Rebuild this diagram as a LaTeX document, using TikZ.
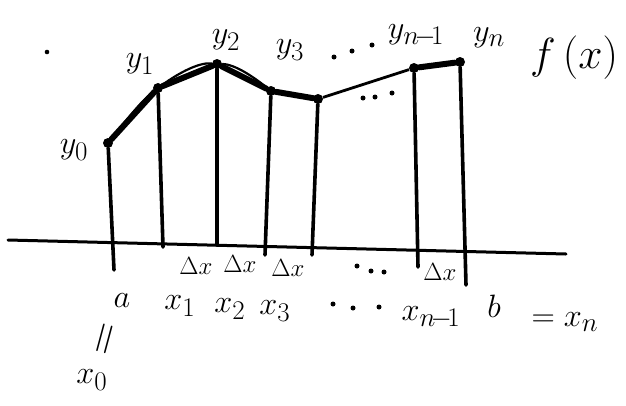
\documentclass[tikz,border=0pt]{standalone}
\begin{document}
\begin{tikzpicture}[x=1pt,y=-1pt,
  stroke/.style={line width=3.6pt,line cap=round},
  thick curve/.style={line width=6pt,line cap=round,line join=round},
  lbl/.style={font=\Huge,scale=1.3,inner sep=0pt},
  small/.style={font=\Huge,scale=1.0,inner sep=0pt},
  pt/.style={circle,fill,inner sep=0pt,minimum size=10pt},
  dot/.style={circle,fill,inner sep=0pt,minimum size=5pt}]
\useasboundingbox (0,0) rectangle (626,405);
% axis
\coordinate (axL) at (8,240);
\coordinate (axR) at (566,254);
\draw[line width=3pt,line cap=round] (axL) -- (axR);
% points on curve
\node[pt] (p0) at (108,143) {};
\node[pt] (p1) at (158,88) {};
\node[pt] (p2) at (217,64) {};
\node[pt] (p3) at (271,91) {};
\node[pt] (p4) at (318,99) {};
\node[pt] (p5) at (414,68) {};
\node[pt] (p6) at (460,62) {};
% feet
\coordinate (f0) at (114,270);
\coordinate (f1) at (163,247);
\coordinate (f2) at (217,245);
\coordinate (f3) at (265,255);
\coordinate (f4) at (312,255);
\coordinate (f5) at (418,267);
\coordinate (f6) at (466,285);
\foreach \i in {0,...,6}{\draw[stroke] (p\i) -- (f\i);}
% polygon (thick)
\draw[thick curve] (p0) -- (p1) -- (p2) -- (p3) -- (p4);
\draw[line width=2.8pt] (p4) -- (p5);
\draw[thick curve] (p5) -- (p6);
% true curve (thin, above)
\draw[line width=2.2pt] (p1) .. controls (180,72) and (200,62) .. (p2)
  .. controls (235,64) and (255,78) .. (p3);
\draw[line width=2.2pt] (p0) .. controls (125,122) and (140,102) .. (p1);
% stray dot
\fill (47,52) circle (2.3pt);
% dots under the curve
\node[dot] (c1) at (363,98) {};
\node[dot] (c2) at (375,97) {};
\node[dot] (c3) at (392,93) {};
% dots top
\node[dot] (t1) at (334,57) {};
\node[dot] (t2) at (352,51) {};
\node[dot] (t3) at (372,45) {};
% dots under axis
\node[dot] (a1) at (357,266) {};
\node[dot] (a2) at (371,271) {};
\node[dot] (a3) at (384,272) {};
% dots bottom row
\node[dot] (b1) at (333,304) {};
\node[dot] (b2) at (353,308) {};
\node[dot] (b3) at (379,307) {};
% labels top
\node[lbl] (y0) at (74,150) {$y_0$};
\node[lbl] (y1) at (140,64) {$y_1$};
\node[lbl] (y2) at (226,40) {$y_2$};
\node[lbl] (y3) at (290,50) {$y_3$};
\node[lbl] (yn1) at (416,36) {$y_{n\!-\!1}$};
\node[lbl] (yn) at (489,38) {$y_n$};
\node[font=\Huge,scale=1.75,inner sep=0pt] (fx) at (574,58) {$f\,(x)$};
% delta x labels
\node[small] (d1) at (196,266) {$\Delta x$};
\node[small] (d2) at (240,264) {$\Delta x$};
\node[small] (d3) at (288,268) {$\Delta x$};
\node[small] (d5) at (440,272) {$\Delta x$};
% bottom labels
\node[lbl] (a) at (122,301) {$a$};
\node[lbl] (x1) at (180,306) {$x_1$};
\node[lbl] (x2) at (230,309) {$x_2$};
\node[lbl] (x3) at (275,311) {$x_3$};
\node[lbl] (xn1) at (431,318) {$x_{n\!-\!1}$};
\node[lbl] (b) at (494,306) {$b$};
\node[lbl] (eqxn) at (565,322) {$=x_n$};
\node[lbl,scale=1.4,rotate=75] (eq0) at (108,340) {$=$};
\node[lbl] (x0) at (92,380) {$x_0$};
\end{tikzpicture}
\end{document}
